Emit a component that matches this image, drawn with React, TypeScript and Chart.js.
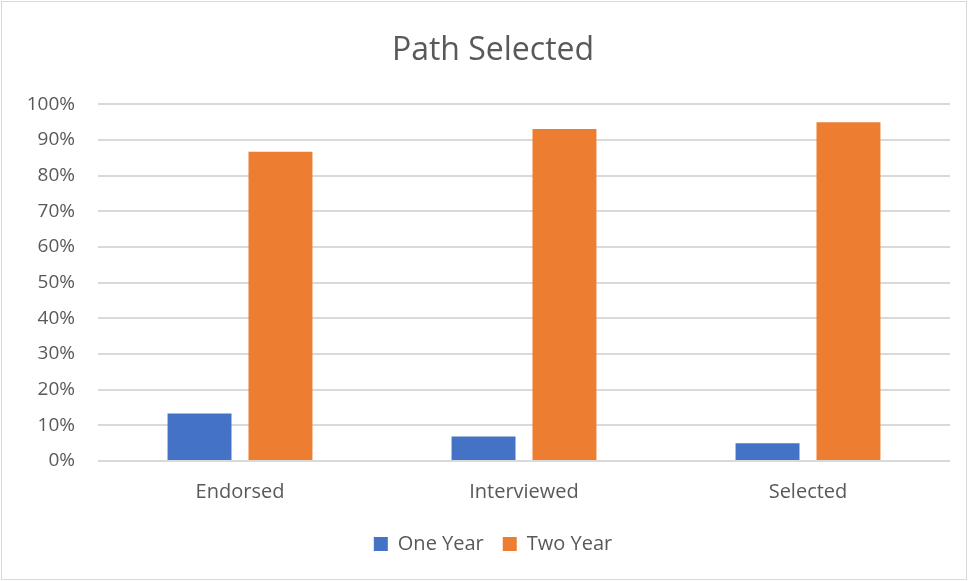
import React, { useEffect, useRef } from "react";
import { Chart, registerables } from "chart.js";

Chart.register(...registerables);

const categories = ["Endorsed", "Interviewed", "Selected"];
const oneYear = [13.3, 6.9, 5.0];
const twoYear = [86.7, 93.1, 95.0];
const seriesNames = ["One Year", "Two Year"];

const FONT = "'Open Sans', 'Noto Sans', sans-serif";
const TEXT = "#595959";

const widenYLabelArea = {
  id: "widenYLabelArea",
  afterLayout(chart: any) {
    const y = chart.scales.y;
    if (y) y.left = 0;
  },
};

export default function App() {
  const ref = useRef<HTMLCanvasElement | null>(null);

  useEffect(() => {
    if (!ref.current) return;
    const chart = new Chart(ref.current, {
      type: "bar",
      data: {
        labels: categories,
        datasets: [
          {
            label: seriesNames[0],
            data: oneYear,
            backgroundColor: "#4472C4",
            categoryPercentage: 0.57,
            barPercentage: 0.79,
          },
          {
            label: seriesNames[1],
            data: twoYear,
            backgroundColor: "#ED7D31",
            categoryPercentage: 0.57,
            barPercentage: 0.79,
          },
        ],
      },
      options: {
        responsive: false,
        animation: false,
        layout: { padding: { top: 9, right: 18, bottom: 17, left: 36 } },
        plugins: {
          title: {
            display: true,
            text: "Path Selected",
            color: TEXT,
            font: { family: FONT, size: 32, weight: "normal" },
            padding: { top: 23, bottom: 34 },
          },
          legend: {
            position: "bottom",
            labels: {
              color: TEXT,
              font: { family: FONT, size: 20 },
              boxWidth: 14,
              boxHeight: 14,
              padding: 19,
            },
          },
          tooltip: { enabled: false },
        },
        scales: {
          x: {
            grid: { display: false },
            border: { display: false },
            ticks: {
              color: TEXT,
              font: { family: FONT, size: 20 },
              padding: 11,
            },
          },
          y: {
            min: 0,
            max: 100,
            afterFit: (scale: any) => {
              scale.width = 62;
            },
            grid: { color: "#d9d9d9", lineWidth: 2, drawTicks: false },
            border: { display: false },
            ticks: {
              stepSize: 10,
              color: TEXT,
              font: { family: FONT, size: 19 },
              padding: 23,
              callback: (v: any) => v + "%",
            },
          },
        },
      },
      plugins: [widenYLabelArea],
    });
    return () => chart.destroy();
  }, []);

  return (
    <div style={{ position: "absolute", left: 0, top: 0, width: 968, height: 581, background: "#fff" }}>
      <canvas ref={ref} width={968} height={581} style={{ position: "absolute", left: 0, top: 0 }} />
      <div
        style={{
          position: "absolute",
          left: 1,
          top: 1,
          width: 966,
          height: 579,
          boxSizing: "border-box",
          border: "1px solid #d9d9d9",
          pointerEvents: "none",
        }}
      />
    </div>
  );
}
